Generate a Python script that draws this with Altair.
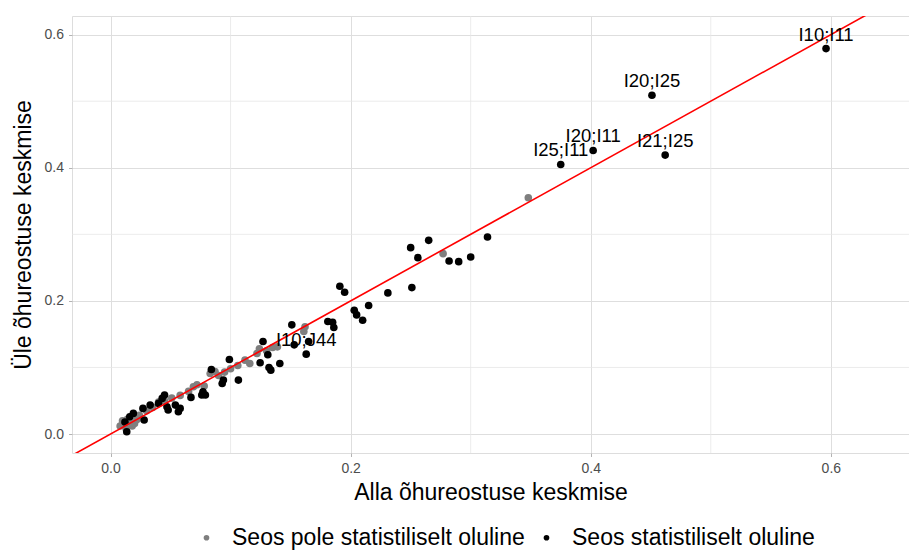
import altair as alt
import pandas as pd

# Non-significant pairs (grey)
grey_x = [0.008, 0.010, 0.012, 0.014, 0.016, 0.018, 0.020, 0.022, 0.013, 0.024, 0.030, 0.035,
          0.040, 0.045, 0.051, 0.058, 0.065, 0.069, 0.072, 0.078, 0.083, 0.087, 0.090, 0.095,
          0.100, 0.106, 0.112, 0.116, 0.122, 0.124, 0.130, 0.135, 0.139, 0.161, 0.162, 0.277, 0.348]
grey_y = [0.012, 0.020, 0.015, 0.022, 0.018, 0.012, 0.016, 0.022, 0.008, 0.028, 0.035, 0.040,
          0.048, 0.050, 0.054, 0.058, 0.064, 0.071, 0.074, 0.072, 0.091, 0.094, 0.088, 0.093,
          0.098, 0.103, 0.111, 0.106, 0.121, 0.128, 0.125, 0.130, 0.131, 0.154, 0.161, 0.271, 0.355]

# Significant pairs (black)
black_x = [0.0135, 0.016, 0.019, 0.012, 0.027, 0.028, 0.033, 0.040, 0.043, 0.045, 0.047, 0.048,
           0.054, 0.0565, 0.058, 0.067, 0.076, 0.077, 0.079, 0.084, 0.093, 0.094, 0.099, 0.1065,
           0.1246, 0.127, 0.131, 0.132, 0.1335, 0.141, 0.151, 0.153, 0.163, 0.165, 0.181, 0.185,
           0.186, 0.191, 0.195, 0.203, 0.205, 0.210, 0.215, 0.231, 0.251, 0.250, 0.256, 0.265,
           0.282, 0.290, 0.300, 0.314, 0.375, 0.402, 0.451, 0.462, 0.596]
black_y = [0.0035, 0.026, 0.031, 0.018, 0.0385, 0.021, 0.0435, 0.046, 0.0535, 0.0586, 0.041, 0.036,
           0.0435, 0.0335, 0.0385, 0.055, 0.0586, 0.0635, 0.0586, 0.097, 0.076, 0.081, 0.112, 0.081,
           0.107, 0.139, 0.119, 0.100, 0.096, 0.106, 0.164, 0.134, 0.120, 0.139, 0.169, 0.168,
           0.160, 0.222, 0.213, 0.186, 0.179, 0.171, 0.193, 0.212, 0.220, 0.280, 0.265, 0.291,
           0.260, 0.259, 0.266, 0.296, 0.405, 0.426, 0.509, 0.419, 0.579]

label_names = ["I10;I11", "I20;I25", "I25;I11", "I20;I11", "I21;I25", "I10;J44"]
label_x = [0.596, 0.451, 0.375, 0.402, 0.462, 0.163]
label_y = [0.579, 0.509, 0.405, 0.426, 0.419, 0.120]

cat_ns = "Seos pole statistiliselt oluline"
cat_s = "Seos statistiliselt oluline"

major_ticks = [0.0, 0.2, 0.4, 0.6]
minor_ticks = [0.1, 0.3, 0.5]
x_domain = [-0.0321, 0.6651]
y_domain = [-0.0285, 0.628]
ref_line = [-0.1, 0.8]

pts = pd.DataFrame({
    "x": grey_x + black_x,
    "y": grey_y + black_y,
    "grp": [cat_ns] * len(grey_x) + [cat_s] * len(black_x),
})
labs = pd.DataFrame({"x": label_x, "y": label_y, "name": label_names})
minor = pd.DataFrame({"v": minor_ticks})
line_df = pd.DataFrame({"x": ref_line, "y": ref_line})

font = "Liberation Sans"
xs = alt.Scale(domain=x_domain, nice=False, zero=False)
ys = alt.Scale(domain=y_domain, nice=False, zero=False)

x_axis = alt.Axis(values=major_ticks, format=".1f", title="Alla õhureostuse keskmise",
                  grid=True, gridColor="#DEDEDE", gridWidth=1, domain=False,
                  tickColor="#B3B3B3", tickSize=3.5, labelPadding=5,
                  labelFontSize=14, labelColor="#4D4D4D", labelFont=font,
                  titleFontSize=23, titleFont=font, titleFontWeight="normal",
                  titleColor="black", titlePadding=6)
y_axis = alt.Axis(values=major_ticks, format=".1f", title="Üle õhureostuse keskmise",
                  grid=True, gridColor="#DEDEDE", gridWidth=1, domain=False,
                  tickColor="#B3B3B3", tickSize=3.5, labelPadding=5,
                  labelFontSize=14, labelColor="#4D4D4D", labelFont=font,
                  titleFontSize=23, titleFont=font, titleFontWeight="normal",
                  titleColor="black", titlePadding=9)

minor_x = alt.Chart(minor).mark_rule(color="#E6E6E6", strokeWidth=0.8).encode(
    x=alt.X("v:Q", scale=xs, axis=x_axis))
minor_y = alt.Chart(minor).mark_rule(color="#E6E6E6", strokeWidth=0.8).encode(
    y=alt.Y("v:Q", scale=ys, axis=y_axis))

points = alt.Chart(pts).mark_circle(size=58, opacity=1).encode(
    x=alt.X("x:Q", scale=xs, axis=x_axis),
    y=alt.Y("y:Q", scale=ys, axis=y_axis),
    color=alt.Color("grp:N",
                    scale=alt.Scale(domain=[cat_ns, cat_s], range=["#7F7F7F", "#000000"]),
                    legend=alt.Legend(title=None, orient="none", direction="horizontal",
                                      legendX=123, legendY=510, padding=0,
                                      labelFontSize=23, labelFont=font, labelColor="black",
                                      labelLimit=500, symbolSize=32, symbolStrokeWidth=0,
                                      labelOffset=14, columnPadding=10)),
)

line = alt.Chart(line_df).mark_line(color="#FF0000", strokeWidth=1.6, clip=True).encode(
    x=alt.X("x:Q", scale=xs, axis=x_axis),
    y=alt.Y("y:Q", scale=ys, axis=y_axis),
)

text = alt.Chart(labs).mark_text(fontSize=18.5, font=font, color="black", dy=-8,
                                 baseline="alphabetic", align="center").encode(
    x=alt.X("x:Q", scale=xs, axis=x_axis),
    y=alt.Y("y:Q", scale=ys, axis=y_axis),
    text="name:N",
)

chart = alt.layer(minor_x, minor_y, points, line, text).properties(
    width=837, height=437,
    autosize=alt.AutoSizeParams(type="none"),
    padding={"left": 64, "top": 8, "right": 0, "bottom": 98},
).configure_view(stroke="#B3B3B3", strokeWidth=1.2).configure(background="white")

chart.save("out.html", embed_options={"renderer": "svg", "actions": False})
